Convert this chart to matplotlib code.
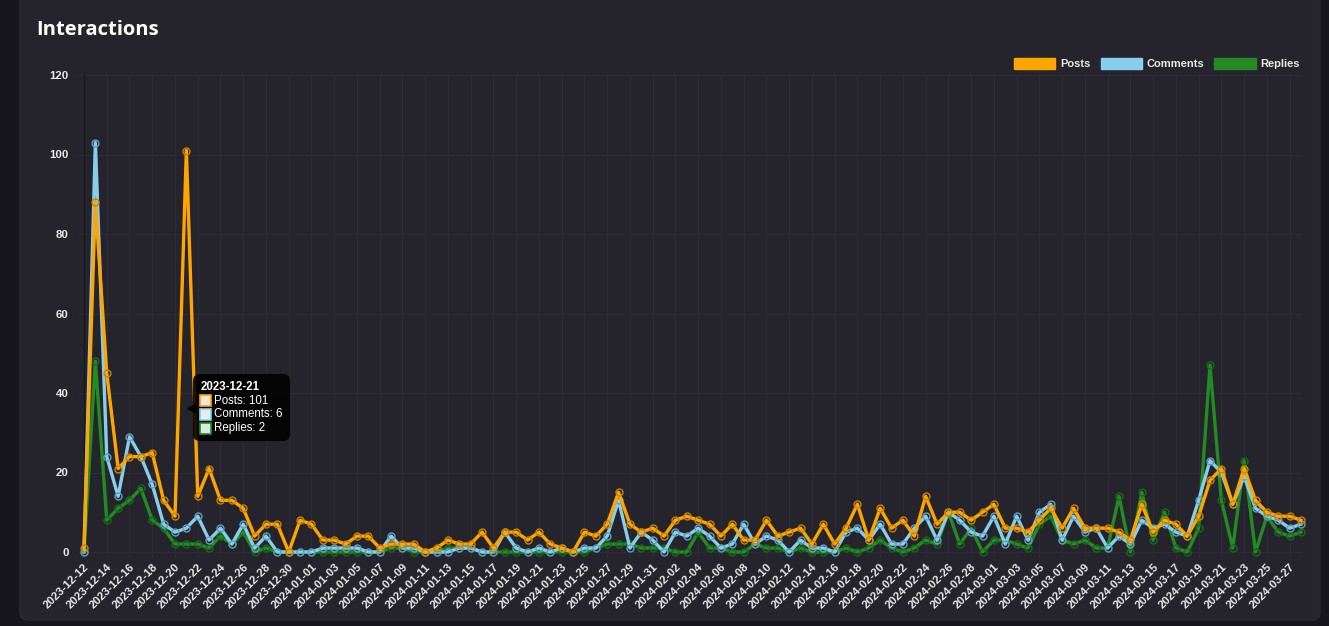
import numpy as np
import pandas as pd
import matplotlib
matplotlib.use('Agg')
import matplotlib.pyplot as plt
from matplotlib.patches import Patch, Rectangle, FancyBboxPatch
from matplotlib.offsetbox import TextArea, DrawingArea, HPacker, VPacker, AnnotationBbox
from matplotlib.transforms import offset_copy

# дни по порядку
dates = pd.date_range('2023-12-12', '2024-03-28', freq='D').strftime('%Y-%m-%d').tolist()

posts = [1, 88, 45, 21, 24, 24, 25, 13, 9, 101, 14, 21, 13, 13, 11, 4, 7, 7, 0, 8,
         7, 3, 3, 2, 4, 4, 1, 2, 2, 2, 0, 1, 3, 2, 2, 5, 1, 5, 5, 3,
         5, 2, 1, 0, 5, 4, 7, 15, 7, 5, 6, 4, 8, 9, 8, 7, 4, 7, 3, 3,
         8, 4, 5, 6, 2, 7, 2, 6, 12, 3, 11, 6, 8, 4, 14, 7, 10, 10, 8, 10,
         12, 6, 6, 5, 8, 11, 6, 11, 6, 6, 6, 5, 3, 12, 5, 8, 7, 4, 9, 18,
         21, 12, 21, 13, 10, 9, 9, 8]
comments = [0, 103, 24, 14, 29, 24, 17, 7, 5, 6, 9, 3, 6, 2, 7, 1, 4, 0, 0, 0,
            0, 1, 1, 1, 1, 0, 0, 4, 1, 1, 0, 0, 0, 1, 1, 0, 0, 5, 1, 0,
            1, 0, 1, 0, 1, 1, 4, 13, 1, 5, 3, 0, 5, 4, 6, 4, 1, 2, 7, 2,
            4, 3, 0, 3, 1, 1, 0, 5, 6, 3, 7, 2, 2, 6, 9, 3, 10, 8, 5, 4,
            9, 2, 9, 3, 10, 12, 3, 9, 5, 6, 1, 4, 2, 8, 6, 7, 5, 4, 13, 23,
            20, 12, 19, 11, 9, 8, 6, 7]
replies = [0, 48, 8, 11, 13, 16, 8, 6, 2, 2, 2, 1, 4, 2, 5, 0, 1, 0, 0, 0,
           0, 0, 0, 0, 0, 0, 0, 1, 1, 0, 0, 0, 1, 1, 1, 0, 0, 0, 0, 0,
           0, 0, 0, 0, 0, 1, 2, 2, 2, 1, 1, 1, 0, 0, 5, 1, 1, 0, 0, 2,
           1, 1, 0, 1, 0, 0, 0, 1, 0, 1, 3, 1, 0, 1, 3, 2, 10, 2, 6, 0,
           3, 3, 2, 1, 7, 9, 3, 2, 3, 1, 1, 14, 0, 15, 3, 10, 1, 0, 6, 47,
           13, 1, 23, 0, 9, 5, 4, 5]

names = ['Posts', 'Comments', 'Replies']
colors = ['#ffa500', '#87ceeb', '#228b22']
edge_colors = ['#c98300', '#5e9fbb', '#17691a']
pale = ['#f3e6d6', '#e4eef2', '#dcebdc']

hover_day = '2023-12-21'

card_bg = '#25242d'
outer_bg = '#17161c'
grid_c = '#2d2c36'
text_c = '#e8e8e8'

plt.rcParams['font.family'] = ['Liberation Sans', 'DejaVu Sans']

fig = plt.figure(figsize=(13.29, 6.26), dpi=100, facecolor=outer_bg)

# карточка
card = FancyBboxPatch((0.2, 0.06), 13.0, 7.0, boxstyle='round,pad=0,rounding_size=0.08',
                      transform=fig.dpi_scale_trans, fc=card_bg, ec='#2c2b34', lw=1, zorder=-10)
fig.patches.append(card)

ax = fig.add_axes([84 / 1329, 74 / 626, 1217 / 1329, 477 / 626])
ax.set_zorder(1)
ax.set_facecolor('none')

x = np.arange(len(dates))
series = [posts, comments, replies]
for k in range(2, -1, -1):
    ax.plot(x, series[k], color=colors[k], lw=2.4, marker='o', ms=5,
            mfc='none', mec=edge_colors[k], mew=1.0, zorder=3 + (2 - k) * 0.1,
            solid_joinstyle='round', clip_on=False)

ax.set_xlim(0, len(dates) - 1)
ax.set_ylim(0, 120)
ax.set_yticks(np.arange(0, 121, 20))
ax.set_xticks(x[::2])
ax.set_xticklabels(dates[::2], rotation=45, ha='right', rotation_mode='anchor')

ax.tick_params(axis='both', colors=grid_c, labelcolor=text_c, labelsize=8.2, length=4)
ax.tick_params(axis='y', pad=7)
ax.tick_params(axis='x', pad=3)
for lab in ax.get_xticklabels() + ax.get_yticklabels():
    lab.set_fontweight('bold')

ax.grid(True, color=grid_c, lw=0.8, zorder=0)
ax.set_axisbelow(True)
for s in ['top', 'right']:
    ax.spines[s].set_visible(False)
ax.spines['left'].set_color('#18171d')
ax.spines['bottom'].set_color(grid_c)

# заголовок
fig.text(36 / 1329, 1 - 35 / 626, 'Interactions', fontsize=14.5, fontweight='bold',
         color='white', family=['Open Sans', 'DejaVu Sans'], va='baseline')

# легенда
handles = [Patch(fc=colors[k], ec=colors[k], label=names[k]) for k in range(3)]
leg = fig.legend(handles=handles, loc='lower right', bbox_to_anchor=(1300 / 1329, 1 - 69 / 626),
                 ncol=3, frameon=False, fontsize=8, handlelength=3.7, handleheight=1.2,
                 handletextpad=0.45, columnspacing=0.9, borderpad=0, borderaxespad=0)
for t in leg.get_texts():
    t.set_color(text_c)
    t.set_fontweight('bold')

# подсказка
i = dates.index(hover_day)
vals = [posts[i], comments[i], replies[i]]
avg = np.mean(vals)

rows = [TextArea(hover_day, textprops=dict(color='white', fontsize=8.3, fontweight='bold'))]
for k in range(3):
    da = DrawingArea(8, 8, 0, 0)
    da.add_artist(Rectangle((0, 0), 8, 8, fc=pale[k], ec=colors[k], lw=1.2))
    ta = TextArea(f'{names[k]}: {vals[k]}', textprops=dict(color='white', fontsize=8.3))
    rows.append(HPacker(children=[da, ta], align='center', pad=0, sep=2))
box = VPacker(children=rows, align='left', pad=0, sep=1.2)
ab = AnnotationBbox(box, (i, avg), xycoords='data', xybox=(10, 0), boxcoords='offset points',
                    box_alignment=(0, 0.5), frameon=True, pad=0.5,
                    bboxprops=dict(boxstyle='round,pad=0.5,rounding_size=0.5', fc='black',
                                   ec='none', alpha=0.88), zorder=10)
ax.add_artist(ab)
caret = offset_copy(ax.transData, fig=fig, x=3.2, y=0, units='points')
ax.plot(i, avg, marker='<', ms=5.5, color='black', alpha=0.88, transform=caret,
        zorder=10, clip_on=False)

fig.savefig('out.png', dpi=100, facecolor=outer_bg)
